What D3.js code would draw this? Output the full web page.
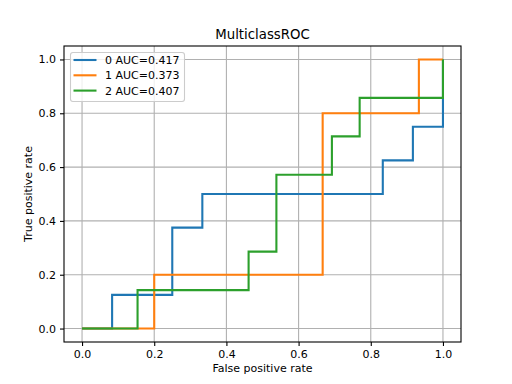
<!DOCTYPE html>
<html>
<head>
<meta charset="utf-8">
<script src="https://cdn.jsdelivr.net/npm/d3@7"></script>
<style>
  body { margin: 0; background: #fff; }
  text { font-family: "DejaVu Sans", sans-serif; fill: #000; }
</style>
</head>
<body>
<svg id="chart" width="512" height="384"></svg>
<script>
// ROC curves, one per class (step curves)
const classNames = ["0", "1", "2"];
const aucValues = [0.417, 0.373, 0.407];
const colors = ["#1f77b4", "#ff7f0e", "#2ca02c"];

const fpr0 = [0, 0.0833, 0.0833, 0.25, 0.25, 0.3333, 0.3333, 0.8333, 0.8333, 0.9167, 0.9167, 1, 1];
const tpr0 = [0, 0, 0.125, 0.125, 0.375, 0.375, 0.5, 0.5, 0.625, 0.625, 0.75, 0.75, 1];

const fpr1 = [0, 0.2, 0.2, 0.6667, 0.6667, 0.9333, 0.9333, 1];
const tpr1 = [0, 0, 0.2, 0.2, 0.8, 0.8, 1, 1];

const fpr2 = [0, 0.1538, 0.1538, 0.4615, 0.4615, 0.5385, 0.5385, 0.6923, 0.6923, 0.7692, 0.7692, 1, 1];
const tpr2 = [0, 0, 0.1429, 0.1429, 0.2857, 0.2857, 0.5714, 0.5714, 0.7143, 0.7143, 0.8571, 0.8571, 1];

const xTicks = [0, 0.2, 0.4, 0.6, 0.8, 1.0];
const yTicks = [0, 0.2, 0.4, 0.6, 0.8, 1.0];

const curves = [[fpr0, tpr0], [fpr1, tpr1], [fpr2, tpr2]];

var svg = d3.select("#chart");
var plotL = 64, plotR = 461, plotT = 46, plotB = 342;

var x = d3.scaleLinear().domain([-0.05, 1.05]).range([plotL, plotR]);
var y = d3.scaleLinear().domain([-0.05, 1.05]).range([plotB, plotT]);

// grid
svg.append("g").selectAll("line")
  .data(xTicks).enter().append("line")
  .attr("x1", d => x(d)).attr("x2", d => x(d))
  .attr("y1", plotT).attr("y2", plotB)
  .attr("stroke", "#b0b0b0").attr("stroke-width", 1.1);
svg.append("g").selectAll("line")
  .data(yTicks).enter().append("line")
  .attr("y1", d => y(d)).attr("y2", d => y(d))
  .attr("x1", plotL).attr("x2", plotR)
  .attr("stroke", "#b0b0b0").attr("stroke-width", 1.1);

// curves
var line = d3.line().x(d => x(d[0])).y(d => y(d[1]));
curves.forEach(function(c, i) {
  var pts = c[0].map((v, j) => [v, c[1][j]]);
  svg.append("path")
    .datum(pts)
    .attr("d", line)
    .attr("fill", "none")
    .attr("stroke", colors[i])
    .attr("stroke-width", 2.1)
    .attr("stroke-linejoin", "miter");
});

// axes
var xAxis = svg.append("g")
  .attr("transform", "translate(0," + plotB + ")")
  .call(d3.axisBottom(x).tickValues(xTicks).tickFormat(d3.format(".1f")).tickSize(4).tickPadding(4));
var yAxis = svg.append("g")
  .attr("transform", "translate(" + plotL + ",0)")
  .call(d3.axisLeft(y).tickValues(yTicks).tickFormat(d3.format(".1f")).tickSize(4).tickPadding(4));
[xAxis, yAxis].forEach(function(a) {
  a.select(".domain").remove();
  a.selectAll("line").attr("stroke", "#000").attr("stroke-width", 1.1);
  a.selectAll("text").style("font-size", "11px").attr("fill", "#000")
    .style("font-family", "DejaVu Sans, sans-serif");
});

// frame
svg.append("rect")
  .attr("x", plotL).attr("y", plotT)
  .attr("width", plotR - plotL).attr("height", plotB - plotT)
  .attr("fill", "none").attr("stroke", "#000").attr("stroke-width", 1.1);

// labels
svg.append("text")
  .attr("x", (plotL + plotR) / 2).attr("y", 372)
  .style("text-anchor", "middle").style("font-size", "11px")
  .text("False positive rate");
svg.append("text")
  .attr("transform", "translate(32," + ((plotT + plotB) / 2) + ") rotate(-90)")
  .style("text-anchor", "middle").style("font-size", "11px")
  .text("True positive rate");
svg.append("text")
  .attr("x", (plotL + plotR) / 2).attr("y", 39)
  .style("text-anchor", "middle").style("font-size", "13.3px")
  .text("MulticlassROC");

// legend
var lg = svg.append("g");
lg.append("rect")
  .attr("x", 70.5).attr("y", 52.5)
  .attr("width", 114).attr("height", 49)
  .attr("rx", 2.5)
  .attr("fill", "#fff").attr("fill-opacity", 0.8)
  .attr("stroke", "#cccccc").attr("stroke-width", 1.1);
classNames.forEach(function(name, i) {
  var yy = 60 + i * 15.3;
  lg.append("line")
    .attr("x1", 73.5).attr("x2", 96.5)
    .attr("y1", yy).attr("y2", yy)
    .attr("stroke", colors[i]).attr("stroke-width", 2.1);
  lg.append("text")
    .attr("x", 105).attr("y", yy + 4)
    .style("font-size", "11px")
    .text(name + " AUC=" + aucValues[i].toFixed(3));
});
</script>
</body>
</html>
